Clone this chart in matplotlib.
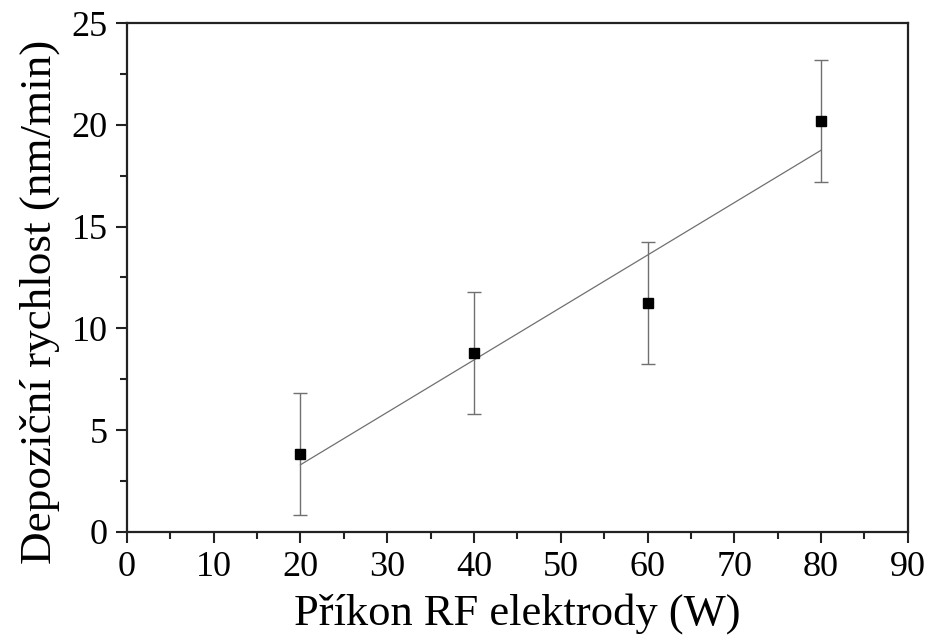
import matplotlib.pyplot as plt
import numpy as np

# data
power = [20, 40, 60, 80]            # W
rate = [3.85, 8.8, 11.25, 20.2]     # nm/min
rate_err = [3.0, 3.0, 3.0, 3.0]

plt.rcParams['font.family'] = ['Liberation Serif', 'DejaVu Serif']

fig = plt.figure(figsize=(9.33, 6.39), dpi=100)
ax = fig.add_axes([0.136, 0.1675, 0.837, 0.7965])

ax.errorbar(power, rate, yerr=rate_err, fmt='none', ecolor='#707070',
            elinewidth=1.0, capsize=5, capthick=1.0, zorder=2)

# linear fit
k, q = np.polyfit(power, rate, 1)
fx = np.array([power[0], power[-1]])
ax.plot(fx, k * fx + q, color='#707070', linewidth=0.9, zorder=3)

ax.plot(power, rate, 's', color='black', markersize=7.5, zorder=4)

ax.set_xlim(0, 90)
ax.set_ylim(0, 25)
ax.set_xticks(np.arange(0, 91, 10))
ax.set_xticks(np.arange(5, 90, 10), minor=True)
ax.set_yticks(np.arange(0, 26, 5))
ax.set_yticks(np.arange(2.5, 25, 5), minor=True)

ax.tick_params(which='both', direction='out', top=False, right=False,
               width=1.5, colors='#222222', labelcolor='black')
ax.tick_params(which='major', length=8, labelsize=26, pad=6)
ax.tick_params(which='minor', length=5)
for s in ax.spines.values():
    s.set_linewidth(1.6)
    s.set_color('#222222')

ax.set_xlabel('Příkon RF elektrody (W)', fontsize=32, labelpad=6)
ax.set_ylabel('Depoziční rychlost (nm/min)', fontsize=32.5, labelpad=8)
ax.yaxis.label.set_y(0.452)

fig.savefig('out.png', dpi=100)
